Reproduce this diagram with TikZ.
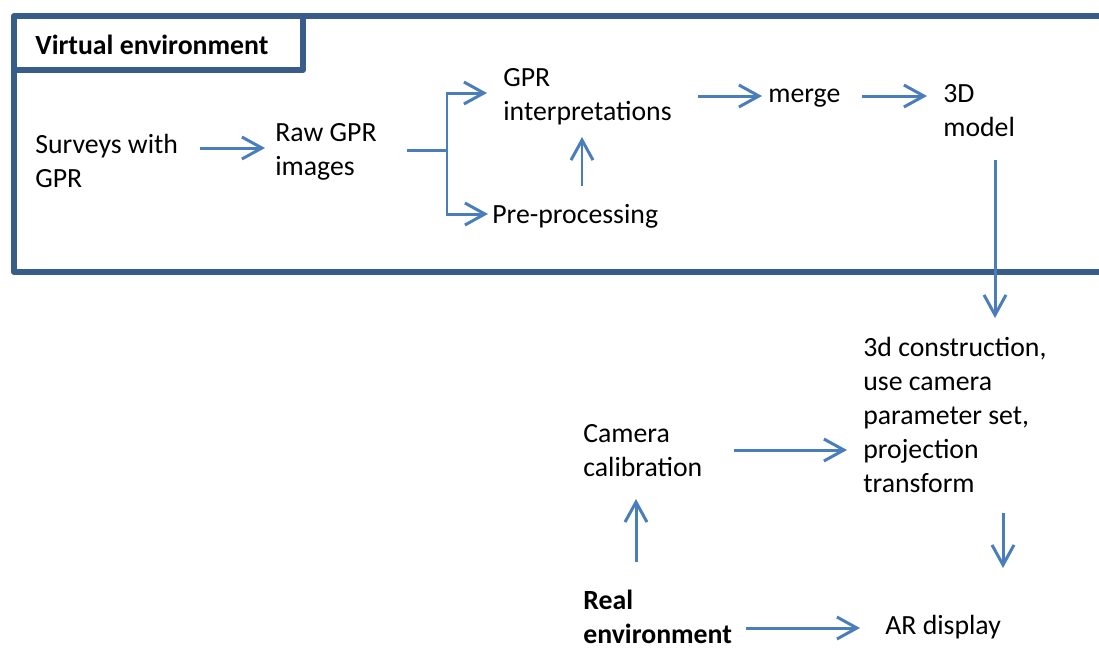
\documentclass[tikz,border=0pt]{standalone}
\usepackage{fontspec}
\setmainfont{Carlito}
\usetikzlibrary{arrows.meta}
\definecolor{flowblue}{HTML}{4A7EBB}
\definecolor{frameblue}{HTML}{385D8A}

\begin{document}
\begin{tikzpicture}[x=0.02cm,y=-0.02cm,>={Straight Barb[length=0.4cm,width=0.44cm]},
  every node/.style={anchor=base west,inner sep=0pt,align=left,font=\fontsize{15.8}{19.35}\selectfont}]
  \tikzstyle{heading}=[font=\fontsize{15.8}{19.35}\selectfont\bfseries]
  \tikzstyle{flow}=[draw=flowblue,line width=1.7pt]
  \tikzstyle{frame}=[draw=frameblue,line width=3.4pt,line join=round]

  \useasboundingbox (0,0) rectangle (1099,647);

  \draw[frame] (1099,16) -- (14,16) -- (14,272) -- (1099,272);
  \draw[frame] (14,70) -| (303,16);

  \node[heading] (V)  at (35,54)   {Virtual environment};
  \node          (S)  at (35,187)  {Surveys with\\GPR};
  \node          (R)  at (275,175) {Raw GPR\\images};
  \node          (I)  at (503,120) {GPR\\interpretations};
  \node          (P)  at (492,223) {Pre-processing};
  \node          (M)  at (768,102) {merge};
  \node          (D)  at (943,136) {3D\\model};
  \node          (T)  at (863,492) {3d construction,\\use camera\\parameter set,\\projection\\transform};
  \node          (C)  at (583,476) {Camera\\calibration};
  \node[heading] (E)  at (583,643) {Real\\environment};
  \node          (AR) at (885,634) {AR display};

  \coordinate (J) at (447,150);

  \draw[flow,->] ([shift={(165,-39)}]S.base west) -- ([shift={(-10,-27)}]R.base west);
  \draw[flow]    ([shift={(132,-25)}]R.base west) -- (J);
  \draw[flow,->] (J) |- ([shift={(-16,-27)}]I.base west);
  \draw[flow,->] (J) |- ([shift={(-4,-9)}]P.base west);
  \draw[flow,->] ([shift={(90,-37)}]P.base west) -- ([shift={(79,17)}]I.base west);
  \draw[flow,->] ([shift={(195,-24)}]I.base west) -- ([shift={(-6,-6)}]M.base west);
  \draw[flow,->] ([shift={(94,-6)}]M.base west) -- ([shift={(-16,-40)}]D.base west);
  \draw[flow,->] ([shift={(52,24)}]D.base west) -- ([shift={(132,-174)}]T.base west);
  \draw[flow,->] ([shift={(151,-26)}]C.base west) -- ([shift={(-16,-42)}]T.base west);
  \draw[flow,->] ([shift={(53,-81)}]E.base west) -- ([shift={(53,23)}]C.base west);
  \draw[flow,->] ([shift={(163,-15)}]E.base west) -- ([shift={(-25,-6)}]AR.base west);
  \draw[flow,->] ([shift={(140,21)}]T.base west) -- ([shift={(118,-66)}]AR.base west);
\end{tikzpicture}
\end{document}
